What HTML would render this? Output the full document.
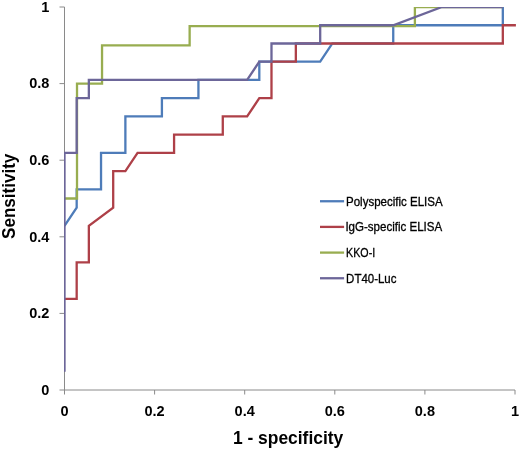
<!DOCTYPE html>
<html lang="en">
<head>
<meta charset="utf-8">
<title>ROC curves</title>
<style>
html,body{margin:0;padding:0;background:#fff;}
body{width:520px;height:449px;overflow:hidden;}
svg{display:block;}
text{font-family:"Liberation Sans",sans-serif;fill:#000;}
.tick{font-weight:bold;font-size:14.5px;}
.title{font-weight:bold;font-size:18.4px;}
.leg{font-size:12.4px;stroke:#000;stroke-width:0.3px;}
.ln{fill:none;stroke-width:2.3;stroke-linejoin:miter;stroke-linecap:butt;}
</style>
</head>
<body>
<svg width="520" height="449" viewBox="0 0 520 449">
<rect width="520" height="449" fill="#ffffff"/>
<g stroke="#8a8a8a" stroke-width="1" fill="none">
<line x1="64.5" y1="7.0" x2="64.5" y2="394.5"/>
<line x1="59.5" y1="390.0" x2="515.0" y2="390.0"/>
<line x1="154.60000000000002" y1="390.0" x2="154.60000000000002" y2="394.5"/>
<line x1="59.5" y1="313.40" x2="64.5" y2="313.40"/>
<line x1="244.70000000000002" y1="390.0" x2="244.70000000000002" y2="394.5"/>
<line x1="59.5" y1="236.80" x2="64.5" y2="236.80"/>
<line x1="334.8" y1="390.0" x2="334.8" y2="394.5"/>
<line x1="59.5" y1="160.20" x2="64.5" y2="160.20"/>
<line x1="424.90000000000003" y1="390.0" x2="424.90000000000003" y2="394.5"/>
<line x1="59.5" y1="83.60" x2="64.5" y2="83.60"/>
<line x1="515.0" y1="390.0" x2="515.0" y2="394.5"/>
<line x1="59.5" y1="7.00" x2="64.5" y2="7.00"/>
</g>
<defs><clipPath id="plot"><rect x="64" y="7" width="456" height="390"/></clipPath></defs>
<g clip-path="url(#plot)">
<polyline class="ln" stroke="#4E7CB9" points="64.50,225.86 76.68,207.62 76.68,189.38 101.03,189.38 101.03,152.90 125.38,152.90 125.38,116.43 161.91,116.43 161.91,98.19 198.43,98.19 198.43,79.95 259.31,79.95 259.31,61.71 320.19,61.71 332.36,43.48 393.24,43.48 393.24,25.24 502.82,25.24 502.82,7.00"/>
<polyline class="ln" stroke="#AE4048" points="64.50,298.81 76.68,298.81 76.68,262.33 88.85,262.33 88.85,225.86 113.20,207.62 113.20,171.14 125.38,171.14 137.55,152.90 174.08,152.90 174.08,134.67 222.78,134.67 222.78,116.43 247.14,116.43 259.31,98.19 271.49,98.19 271.49,61.71 295.84,61.71 295.84,43.48 502.82,43.48 502.82,25.24 515.90,25.24"/>
<polyline class="ln" stroke="#98AD50" points="64.50,198.50 77.01,198.50 77.01,83.60 102.04,83.60 102.04,45.30 189.64,45.30 189.64,26.15 414.89,26.15 414.89,7.00 502.49,7.00"/>
<polyline class="ln" stroke="#6C6699" points="64.50,371.76 64.50,152.90 76.68,152.90 76.68,98.19 88.85,98.19 88.85,79.95 247.14,79.95 259.31,61.71 271.49,61.71 271.49,43.48 320.19,43.48 320.19,25.24 393.24,25.24 441.95,7.00 502.82,7.00"/>
</g>
<text class="tick" x="49.4" y="394.85" text-anchor="end" textLength="8.1" lengthAdjust="spacingAndGlyphs">0</text>
<text class="tick" x="49.4" y="318.25" text-anchor="end" textLength="20.2" lengthAdjust="spacingAndGlyphs">0.2</text>
<text class="tick" x="49.4" y="241.65" text-anchor="end" textLength="20.2" lengthAdjust="spacingAndGlyphs">0.4</text>
<text class="tick" x="49.4" y="165.05" text-anchor="end" textLength="20.2" lengthAdjust="spacingAndGlyphs">0.6</text>
<text class="tick" x="49.4" y="88.45" text-anchor="end" textLength="20.2" lengthAdjust="spacingAndGlyphs">0.8</text>
<text class="tick" x="49.4" y="11.85" text-anchor="end" textLength="8.1" lengthAdjust="spacingAndGlyphs">1</text>
<text class="tick" x="64.50" y="416" text-anchor="middle" textLength="8.1" lengthAdjust="spacingAndGlyphs">0</text>
<text class="tick" x="154.60" y="416" text-anchor="middle" textLength="20.2" lengthAdjust="spacingAndGlyphs">0.2</text>
<text class="tick" x="244.70" y="416" text-anchor="middle" textLength="20.2" lengthAdjust="spacingAndGlyphs">0.4</text>
<text class="tick" x="334.80" y="416" text-anchor="middle" textLength="20.2" lengthAdjust="spacingAndGlyphs">0.6</text>
<text class="tick" x="424.90" y="416" text-anchor="middle" textLength="20.2" lengthAdjust="spacingAndGlyphs">0.8</text>
<text class="tick" x="515.00" y="416" text-anchor="middle" textLength="8.1" lengthAdjust="spacingAndGlyphs">1</text>
<text class="title" x="288.1" y="443.7" text-anchor="middle" textLength="110.4" lengthAdjust="spacingAndGlyphs">1 - specificity</text>
<text class="title" transform="translate(15.1 196.3) rotate(-90)" text-anchor="middle" textLength="85.3" lengthAdjust="spacingAndGlyphs">Sensitivity</text>
<line class="ln" stroke="#4E7CB9" x1="320" y1="201.25" x2="344.1" y2="201.25"/>
<text class="leg" x="346.0" y="205.65" textLength="96.6" lengthAdjust="spacingAndGlyphs">Polyspecific ELISA</text>
<line class="ln" stroke="#AE4048" x1="320" y1="226.9" x2="344.1" y2="226.9"/>
<text class="leg" x="345.4" y="231.30" textLength="96.8" lengthAdjust="spacingAndGlyphs">IgG-specific ELISA</text>
<line class="ln" stroke="#98AD50" x1="320" y1="252.6" x2="344.1" y2="252.6"/>
<text class="leg" x="346.1" y="257.00" textLength="29.1" lengthAdjust="spacingAndGlyphs">KKO-I</text>
<line class="ln" stroke="#6C6699" x1="320" y1="278.25" x2="344.1" y2="278.25"/>
<text class="leg" x="346.1" y="282.65" textLength="50.4" lengthAdjust="spacingAndGlyphs">DT40-Luc</text>
</svg>
</body>
</html>
